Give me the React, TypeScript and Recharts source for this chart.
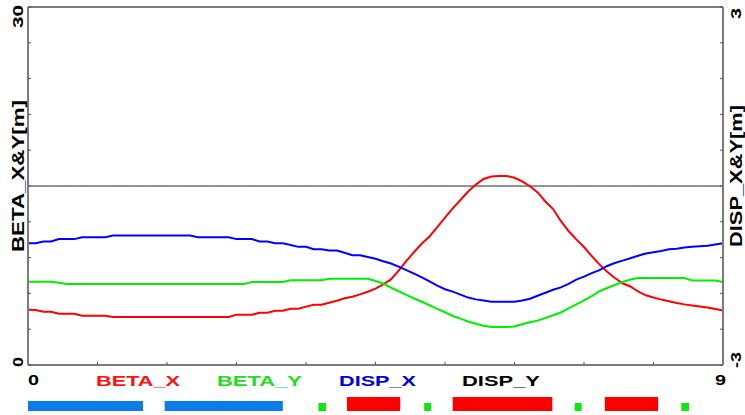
import { ComposedChart, Line, XAxis, YAxis, ReferenceArea } from "recharts";

// longitudinal position [m]
const s = [
  0, 0.1, 0.2, 0.3, 0.4, 0.5, 0.6, 0.7, 0.8, 0.9,
  1, 1.1, 1.2, 1.3, 1.4, 1.5, 1.6, 1.7, 1.8, 1.9,
  2, 2.1, 2.2, 2.3, 2.4, 2.5, 2.6, 2.7, 2.8, 2.9,
  3, 3.1, 3.2, 3.3, 3.4, 3.5, 3.6, 3.7, 3.8, 3.9,
  4, 4.1, 4.2, 4.3, 4.4, 4.5, 4.6, 4.7, 4.8, 4.9,
  5, 5.1, 5.2, 5.3, 5.4, 5.5, 5.6, 5.7, 5.8, 5.9,
  6, 6.1, 6.2, 6.3, 6.4, 6.5, 6.6, 6.7, 6.8, 6.9,
  7, 7.1, 7.2, 7.3, 7.4, 7.5, 7.6, 7.7, 7.8, 7.9,
  8, 8.1, 8.2, 8.3, 8.4, 8.5, 8.6, 8.7, 8.8, 8.9,
  9,
];

const betaX = [
  4.63, 4.6, 4.47, 4.47, 4.3, 4.3, 4.3, 4.13, 4.13, 4.13,
  4.13, 4.02, 4.02, 4.02, 4.02, 4.02, 4.02, 4.02, 4.02, 4.02,
  4.02, 4.02, 4.02, 4.02, 4.02, 4.02, 4.02, 4.22, 4.22, 4.22,
  4.38, 4.38, 4.55, 4.55, 4.72, 4.72, 4.89, 5.05, 5.05, 5.22,
  5.39, 5.59, 5.72, 5.92, 6.14, 6.4, 6.75, 7.17, 7.91, 8.72,
  9.47, 10.18, 10.77, 11.56, 12.35, 13.12, 13.83, 14.54, 15.12, 15.59,
  15.8, 15.84, 15.84, 15.69, 15.38, 14.98, 14.46, 13.7, 13.07, 12.07,
  11.23, 10.53, 9.89, 9.13, 8.43, 7.81, 7.29, 6.85, 6.58, 6.16,
  5.84, 5.65, 5.48, 5.35, 5.2, 5.08, 4.99, 4.91, 4.82, 4.69,
  4.57,
];

const betaY = [
  6.98, 6.98, 6.98, 6.98, 6.9, 6.79, 6.79, 6.79, 6.79, 6.79,
  6.79, 6.79, 6.79, 6.79, 6.79, 6.79, 6.79, 6.79, 6.79, 6.79,
  6.79, 6.79, 6.79, 6.79, 6.79, 6.79, 6.79, 6.79, 6.79, 6.96,
  6.96, 6.96, 6.96, 6.96, 7.1, 7.1, 7.1, 7.1, 7.1, 7.23,
  7.23, 7.23, 7.23, 7.23, 7.23, 7.04, 6.83, 6.49, 6.18, 5.87,
  5.57, 5.3, 5.01, 4.71, 4.42, 4.11, 3.89, 3.65, 3.45, 3.29,
  3.18, 3.18, 3.18, 3.22, 3.41, 3.58, 3.72, 3.94, 4.17, 4.4,
  4.75, 5.08, 5.41, 5.78, 6.18, 6.45, 6.7, 6.96, 7.17, 7.29,
  7.29, 7.29, 7.29, 7.29, 7.29, 7.29, 7.08, 7.08, 7.08, 7.08,
  6.96,
];

const dispX = [
  -0.96, -0.96, -0.93, -0.93, -0.89, -0.89, -0.89, -0.86, -0.86, -0.86,
  -0.86, -0.83, -0.83, -0.83, -0.83, -0.83, -0.83, -0.83, -0.83, -0.83,
  -0.83, -0.83, -0.86, -0.86, -0.86, -0.86, -0.86, -0.89, -0.89, -0.89,
  -0.93, -0.93, -0.96, -0.96, -0.99, -1.02, -1.02, -1.06, -1.06, -1.08,
  -1.08, -1.12, -1.16, -1.16, -1.19, -1.22, -1.26, -1.3, -1.35, -1.41,
  -1.47, -1.53, -1.6, -1.67, -1.73, -1.77, -1.82, -1.87, -1.9, -1.92,
  -1.94, -1.94, -1.94, -1.94, -1.92, -1.89, -1.84, -1.79, -1.74, -1.7,
  -1.64, -1.57, -1.52, -1.46, -1.41, -1.34, -1.29, -1.25, -1.21, -1.17,
  -1.13, -1.11, -1.09, -1.06, -1.05, -1.03, -1.02, -1.01, -1.0, -0.98,
  -0.96,
];

const dispY = [
  0, 0, 0, 0, 0, 0, 0, 0, 0, 0,
  0, 0, 0, 0, 0, 0, 0, 0, 0, 0,
  0, 0, 0, 0, 0, 0, 0, 0, 0, 0,
  0, 0, 0, 0, 0, 0, 0, 0, 0, 0,
  0, 0, 0, 0, 0, 0, 0, 0, 0, 0,
  0, 0, 0, 0, 0, 0, 0, 0, 0, 0,
  0, 0, 0, 0, 0, 0, 0, 0, 0, 0,
  0, 0, 0, 0, 0, 0, 0, 0, 0, 0,
  0, 0, 0, 0, 0, 0, 0, 0, 0, 0,
  0,
];

const sTicks = [0, 0.9, 1.8, 2.7, 3.6, 4.5, 5.4, 6.3, 7.2, 8.1, 9];
const betaTicks = [0, 3, 6, 9, 12, 15, 18, 21, 24, 27, 30];
const dispTicks = [-3, -2.4, -1.8, -1.2, -0.6, 0, 0.6, 1.2, 1.8, 2.4, 3];
const seriesNames = ["BETA_X", "BETA_Y", "DISP_X", "DISP_Y"];

// lattice elements drawn under the plot
const elemKind = ["quad", "quad", "sext", "bend", "sext", "bend", "sext", "bend", "sext"];
const elemStart = [0, 1.77, 3.76, 4.13, 5.13, 5.5, 7.08, 7.47, 8.46];
const elemEnd = [1.49, 3.3, 3.86, 4.82, 5.22, 6.79, 7.17, 8.16, 8.56];

const rows = s.map((v, i) => ({
  s: v,
  betaX: betaX[i],
  betaY: betaY[i],
  dispX: dispX[i],
  dispY: dispY[i],
}));

const FONT = "'Liberation Sans', Arial, sans-serif";
const FRAME = "#7c7c7c";
const elemColor: Record<string, string> = { quad: "#0a7de8", bend: "#ff0000", sext: "#11e611" };
const elemHeight: Record<string, number> = { quad: 10, bend: 14, sext: 8 };
const legendStyle = [
  { color: "#ff1010", x: 96, len: 84 },
  { color: "#22dd22", x: 217, len: 85 },
  { color: "#0000dd", x: 339, len: 77 },
  { color: "#000000", x: 462, len: 78 },
];

const txt = { fontFamily: FONT, fontWeight: 700, fontSize: 15, fill: "#000" } as const;

function BottomTick(p: any) {
  const v = p.payload.value;
  if (v !== 0 && v !== 9) return <g />;
  return (
    <text
      x={v === 0 ? p.x : p.x + 3}
      y={p.y + 23}
      textAnchor={v === 0 ? "start" : "end"}
      textLength={11}
      lengthAdjust="spacingAndGlyphs"
      {...txt}
    >
      {v}
    </text>
  );
}

function LeftTick(p: any) {
  const v = p.payload.value;
  if (v !== 0 && v !== 30) return <g />;
  const x = p.x - 8;
  const y = v === 0 ? p.y + 2 : p.y - 2;
  return (
    <text
      x={x}
      y={y}
      transform={`rotate(-90, ${x}, ${y})`}
      textAnchor={v === 0 ? "start" : "end"}
      textLength={v === 0 ? 10 : 23}
      lengthAdjust="spacingAndGlyphs"
      {...txt}
    >
      {v}
    </text>
  );
}

function RightTick(p: any) {
  const v = p.payload.value;
  if (v !== -3 && v !== 3) return <g />;
  const x = p.x + 21;
  const y = v === -3 ? p.y + 3 : p.y + 1;
  return (
    <text
      x={x}
      y={y}
      transform={`rotate(-90, ${x}, ${y})`}
      textAnchor={v === -3 ? "start" : "end"}
      textLength={v === -3 ? 16 : 11}
      lengthAdjust="spacingAndGlyphs"
      {...txt}
    >
      {v}
    </text>
  );
}

export default function App() {
  return (
    <div style={{ position: "absolute", left: 0, top: 0, width: 745, height: 415, background: "#fff" }}>
      <ComposedChart width={745} height={415} data={rows} margin={{ top: 7, right: 22, bottom: 50, left: 28 }}>
        <XAxis
          xAxisId="b"
          dataKey="s"
          type="number"
          domain={[0, 9]}
          ticks={sTicks}
          orientation="bottom"
          mirror
          tickSize={3}
          tickMargin={0}
          axisLine={{ stroke: FRAME, strokeWidth: 2 }}
          tickLine={{ stroke: "#555" }}
          tick={BottomTick}
          interval={0}
        />
        <XAxis
          xAxisId="t"
          dataKey="s"
          type="number"
          domain={[0, 9]}
          ticks={sTicks}
          orientation="top"
          mirror
          tickSize={3}
          axisLine={{ stroke: FRAME, strokeWidth: 2 }}
          tickLine={{ stroke: "#555" }}
          tick={false}
          interval={0}
        />
        <YAxis
          yAxisId="beta"
          domain={[0, 30]}
          ticks={betaTicks}
          orientation="left"
          mirror
          tickSize={3}
          tickMargin={0}
          axisLine={{ stroke: FRAME, strokeWidth: 2 }}
          tickLine={{ stroke: "#555" }}
          tick={LeftTick}
          interval={0}
        />
        <YAxis
          yAxisId="disp"
          domain={[-3, 3]}
          ticks={dispTicks}
          orientation="right"
          mirror
          tickSize={3}
          tickMargin={0}
          axisLine={{ stroke: FRAME, strokeWidth: 2 }}
          tickLine={{ stroke: "#555" }}
          tick={RightTick}
          interval={0}
        />
        <Line xAxisId="b" yAxisId="disp" dataKey="dispY" stroke="#222" strokeWidth={1} dot={false} activeDot={false} type="linear" isAnimationActive={false} />
        <Line xAxisId="b" yAxisId="beta" dataKey="betaX" stroke="#ff0000" strokeWidth={2} dot={false} activeDot={false} type="linear" isAnimationActive={false} />
        <Line xAxisId="b" yAxisId="beta" dataKey="betaY" stroke="#00f000" strokeWidth={2} dot={false} activeDot={false} type="linear" isAnimationActive={false} />
        <Line xAxisId="b" yAxisId="disp" dataKey="dispX" stroke="#0000ff" strokeWidth={2} dot={false} activeDot={false} type="linear" isAnimationActive={false} />
      </ComposedChart>

      <svg width={745} height={415} style={{ position: "absolute", left: 0, top: 0, pointerEvents: "none" }}>
        <text
          x={24}
          y={176}
          transform="rotate(-90, 24, 176)"
          textAnchor="middle"
          textLength={152}
          lengthAdjust="spacingAndGlyphs"
          {...txt}
          fontSize={16}
        >
          BETA_X&amp;Y[m]
        </text>
        <text
          x={742}
          y={176}
          transform="rotate(-90, 742, 176)"
          textAnchor="middle"
          textLength={142}
          lengthAdjust="spacingAndGlyphs"
          {...txt}
          fontSize={16}
        >
          DISP_X&amp;Y[m]
        </text>
        {seriesNames.map((name, i) => (
          <text
            key={name}
            x={legendStyle[i].x}
            y={386}
            textLength={legendStyle[i].len}
            lengthAdjust="spacingAndGlyphs"
            {...txt}
            fill={legendStyle[i].color}
          >
            {name}
          </text>
        ))}
      </svg>

      <div style={{ position: "absolute", left: 0, top: 397 }}>
        <ComposedChart width={745} height={14} data={[{ s: 0 }, { s: 9 }]} margin={{ top: 0, right: 22, bottom: 0, left: 28 }}>
          <XAxis dataKey="s" type="number" domain={[0, 9]} hide allowDataOverflow />
          <YAxis type="number" domain={[0, 14]} hide allowDataOverflow />
          {elemKind.map((k, i) => (
            <ReferenceArea
              key={i}
              x1={elemStart[i]}
              x2={elemEnd[i]}
              y1={0}
              y2={elemHeight[k]}
              fill={elemColor[k]}
              fillOpacity={1}
              stroke="none"
              ifOverflow="visible"
            />
          ))}
        </ComposedChart>
      </div>
    </div>
  );
}
